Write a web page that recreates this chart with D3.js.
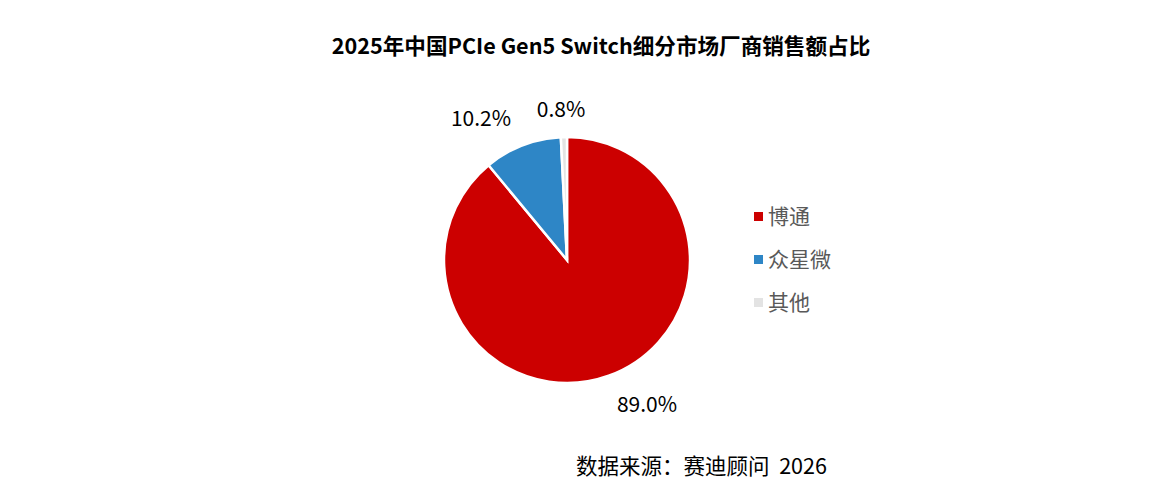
<!DOCTYPE html>
<html>
<head>
<meta charset="utf-8">
<script src="https://cdn.jsdelivr.net/npm/d3@7"></script>
<style>
  body { margin: 0; background: #fff; }
  text { font-family: "Noto Sans CJK SC", "Open Sans", sans-serif; }
</style>
</head>
<body>
<script>
const vendors = ["博通", "众星微", "其他"];
const shares = [89.0, 10.2, 0.8];
const colors = ["#CC0000", "#2E86C6", "#E3E3E3"];

var w = 1176, h = 486;
var cx = 567, cy = 260, r = 123;

var svg = d3.select("body").append("svg")
    .attr("width", w)
    .attr("height", h);

svg.append("text")
    .attr("x", 601).attr("y", 54)
    .attr("text-anchor", "middle")
    .style("font-size", "21.6px")
    .style("font-weight", "bold")
    .attr("fill", "#000")
    .text("2025年中国PCIe Gen5 Switch细分市场厂商销售额占比");

var pie = d3.pie().sort(null).value(d => d)(shares);
var arc = d3.arc().innerRadius(0).outerRadius(r);

var g = svg.append("g").attr("transform", `translate(${cx},${cy})`);
g.selectAll("path")
    .data(pie)
    .enter()
    .append("path")
    .attr("d", arc)
    .attr("fill", (d, i) => colors[i])
    .attr("stroke", "#fff")
    .attr("stroke-width", 2.5);

// label positions, roughly outside each slice
var labelPos = [[80, 145], [-86, -141], [-6, -150]];
g.selectAll(".lbl")
    .data(pie)
    .enter()
    .append("text")
    .attr("x", (d, i) => labelPos[i][0])
    .attr("y", (d, i) => labelPos[i][1] + 7)
    .attr("text-anchor", "middle")
    .style("font-size", "21px")
    .attr("fill", "#000")
    .text(d => d.data.toFixed(1) + "%");

var leg = svg.append("g").attr("transform", "translate(754,216)");
var item = leg.selectAll("g")
    .data(vendors)
    .enter()
    .append("g")
    .attr("transform", (d, i) => `translate(0,${i * 43})`);
item.append("rect")
    .attr("x", 0).attr("y", -4)
    .attr("width", 9).attr("height", 9)
    .attr("fill", (d, i) => colors[i]);
item.append("text")
    .attr("x", 14).attr("y", 8)
    .style("font-size", "21px")
    .attr("fill", "#595959")
    .text(d => d);

svg.append("text")
    .attr("x", 576).attr("y", 474)
    .style("font-size", "21.5px")
    .style("white-space", "pre")
    .attr("fill", "#000")
    .text("数据来源：赛迪顾问  2026");
</script>
</body>
</html>
